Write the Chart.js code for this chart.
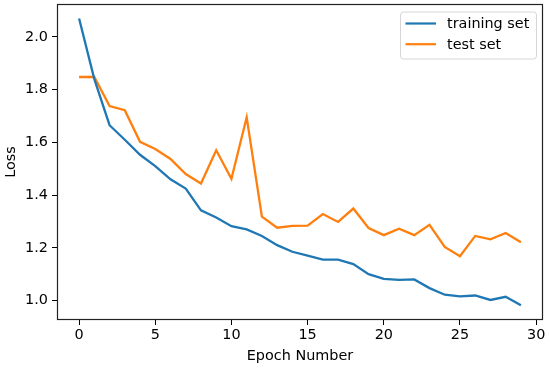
<!DOCTYPE html>
<html>
<head>
<meta charset="utf-8">
<script src="https://cdn.jsdelivr.net/npm/chart.js@4"></script>
<style>
html,body{margin:0;padding:0;background:#fff;}
#wrap{width:550px;height:368px;}
</style>
</head>
<body>
<div id="wrap"><canvas id="c" width="550" height="368"></canvas></div>
<script>
const epochs = [0,1,2,3,4,5,6,7,8,9,10,11,12,13,14,15,16,17,18,19,20,21,22,23,24,25,26,27,28,29];
const trainingLoss = [2.07,1.84,1.665,1.61,1.553,1.51,1.46,1.425,1.342,1.315,1.282,1.27,1.245,1.21,1.185,1.17,1.155,1.155,1.138,1.10,1.082,1.078,1.08,1.047,1.022,1.016,1.019,1.002,1.014,0.982];
const testLoss = [1.848,1.848,1.738,1.722,1.602,1.575,1.537,1.48,1.444,1.57,1.462,1.695,1.318,1.276,1.283,1.284,1.328,1.298,1.349,1.275,1.248,1.272,1.248,1.287,1.203,1.168,1.245,1.232,1.256,1.221];
const xTicks = [0,5,10,15,20,25,30];
const yTicks = [1.0,1.2,1.4,1.6,1.8,2.0];
const seriesLabels = ['training set','test set'];
const seriesColors = ['#1f77b4','#ff7f0e'];

const FONT = 'DejaVu Sans';
const FS = 14.4;

const framePlugin = {
  id: 'frame',
  afterDatasetsDraw(chart) {
    const {ctx, chartArea: a} = chart;
    ctx.save();
    ctx.strokeStyle = '#222';
    ctx.lineWidth = 1.2;
    ctx.strokeRect(Math.round(a.left)+0.5, Math.round(a.top)+0.5, Math.round(a.right-a.left)-1, Math.round(a.bottom-a.top)-1);
    // legend
    const bx = a.right - 143, by = a.top + 7.5, bw = 136, bh = 47;
    ctx.fillStyle = 'rgba(255,255,255,0.8)';
    ctx.strokeStyle = '#d6d6d6';
    ctx.lineWidth = 1;
    ctx.beginPath();
    ctx.roundRect(bx+0.5, by+0.5, bw, bh, 3);
    ctx.fill();
    ctx.stroke();
    ctx.font = FS + 'px "' + FONT + '"';
    ctx.textBaseline = 'middle';
    ctx.textAlign = 'left';
    chart.data.datasets.forEach((ds, i) => {
      const y = by + 12 + i * 20.7;
      ctx.strokeStyle = ds.borderColor;
      ctx.lineWidth = 2.2;
      ctx.beginPath();
      ctx.moveTo(bx + 5.5, y);
      ctx.lineTo(bx + 36, y);
      ctx.stroke();
      ctx.fillStyle = '#000';
      ctx.fillText(ds.label, bx + 47, y + 1);
    });
    ctx.restore();
  }
};

new Chart(document.getElementById('c'), {
  type: 'line',
  data: {
    datasets: [
      {label: seriesLabels[0], data: epochs.map((e,i)=>({x:e,y:trainingLoss[i]})), borderColor: seriesColors[0], backgroundColor: seriesColors[0], borderWidth: 2.3, pointRadius: 0, tension: 0, fill: false},
      {label: seriesLabels[1], data: epochs.map((e,i)=>({x:e,y:testLoss[i]})), borderColor: seriesColors[1], backgroundColor: seriesColors[1], borderWidth: 2.3, pointRadius: 0, tension: 0, fill: false}
    ]
  },
  options: {
    responsive: false,
    animation: false,
    devicePixelRatio: 1,
    layout: {padding: {top: 4, right: 7, left: 0, bottom: 0}},
    plugins: {legend: {display: false}, tooltip: {enabled: false}},
    scales: {
      x: {
        type: 'linear', min: -1.45, max: 30.45,
        afterBuildTicks: s => { s.ticks = xTicks.map(v => ({value: v})); },
        afterFit: s => { s.height = 48; s.paddingLeft = 0; s.paddingRight = 0; },
        grid: {display: true, drawOnChartArea: false, drawTicks: true, tickLength: 5, color: '#000', tickColor: '#000'},
        border: {display: false},
        ticks: {color: '#000', font: {family: FONT, size: FS}, padding: 2, maxRotation: 0, callback: v => String(v)},
        title: {display: true, text: 'Epoch Number', color: '#000', font: {family: FONT, size: FS}, padding: {top: 0, bottom: 3}}
      },
      y: {
        type: 'linear', min: 0.926, max: 2.125,
        afterBuildTicks: s => { s.ticks = yTicks.map(v => ({value: v})); },
        afterFit: s => { s.width = 57; s.paddingTop = 0; s.paddingBottom = 0; },
        grid: {display: true, drawOnChartArea: false, drawTicks: true, tickLength: 5, color: '#000', tickColor: '#000'},
        border: {display: false},
        ticks: {color: '#000', font: {family: FONT, size: FS}, padding: 4, callback: v => v.toFixed(1)},
        title: {display: true, text: 'Loss', color: '#000', font: {family: FONT, size: FS}, padding: {top: 3, bottom: 0}}
      }
    }
  },
  plugins: [framePlugin]
});
</script>
</body>
</html>
